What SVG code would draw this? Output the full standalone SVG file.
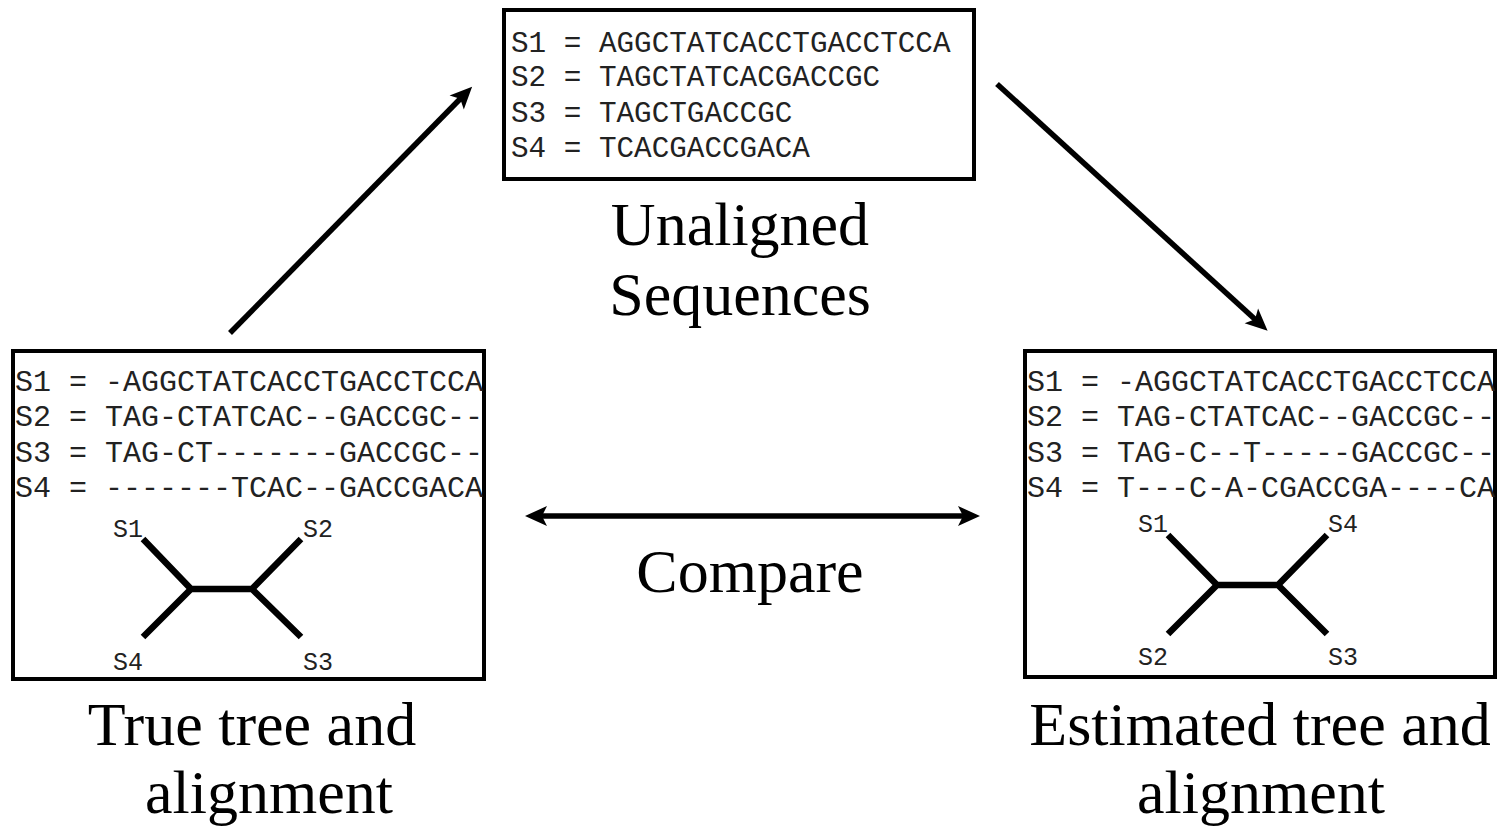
<svg xmlns="http://www.w3.org/2000/svg" width="1503" height="834" viewBox="0 0 1503 834">
<style>
.box{fill:#fff;stroke:#000;stroke-width:4}
.seq{font-family:"Liberation Mono","Courier New",monospace;font-size:30px;fill:#222;white-space:pre}
.seqt{font-family:"Liberation Mono","Courier New",monospace;font-size:29.3px;fill:#222;white-space:pre}
.leaf{font-family:"Liberation Mono","Courier New",monospace;font-size:25px;fill:#222}
.tree{stroke:#000;stroke-width:6.5;fill:none;stroke-linecap:butt;stroke-linejoin:miter}
.cap{font-family:"Liberation Serif","Times New Roman",serif;font-size:62px;fill:#000;text-anchor:middle}
.conn{stroke:#000;stroke-width:5.5;fill:none}
</style>
<defs>
<marker id="ah" markerUnits="userSpaceOnUse" markerWidth="40" markerHeight="40" refX="0" refY="0" orient="auto-start-reverse" overflow="visible" viewBox="-20 -20 40 40">
<path d="M13,0 L-9,-10 L-4,0 L-9,10 Z" fill="#000"/>
</marker>
</defs>

<g id="unaligned">
<rect class="box" x="504" y="10" width="470" height="169"/>
<text class="seqt" x="511" y="52">S1 = AGGCTATCACCTGACCTCCA</text>
<text class="seqt" x="511" y="86">S2 = TAGCTATCACGACCGC</text>
<text class="seqt" x="511" y="122">S3 = TAGCTGACCGC</text>
<text class="seqt" x="511" y="157">S4 = TCACGACCGACA</text>
<text class="cap" x="740" y="245">Unaligned</text>
<text class="cap" x="740" y="315">Sequences</text>
</g>

<g id="true">
<rect class="box" x="13" y="351" width="471" height="328"/>
<text class="seq" x="15" y="391">S1 = -AGGCTATCACCTGACCTCCA</text>
<text class="seq" x="15" y="426">S2 = TAG-CTATCAC--GACCGC--</text>
<text class="seq" x="15" y="462">S3 = TAG-CT-------GACCGC--</text>
<text class="seq" x="15" y="497">S4 = -------TCAC--GACCGACA</text>
<path class="tree" d="M143,539 L191,589 L143,637 M191,589 L252,589 M301,539 L252,589 L301,637"/>
<text class="leaf" x="113" y="537">S1</text>
<text class="leaf" x="303" y="537">S2</text>
<text class="leaf" x="113" y="670">S4</text>
<text class="leaf" x="303" y="670">S3</text>
<text class="cap" x="252" y="745">True tree and</text>
<text class="cap" x="269" y="813">alignment</text>
</g>

<g id="estimated">
<rect class="box" x="1025" y="351" width="470" height="326"/>
<text class="seq" x="1027" y="391">S1 = -AGGCTATCACCTGACCTCCA</text>
<text class="seq" x="1027" y="426">S2 = TAG-CTATCAC--GACCGC--</text>
<text class="seq" x="1027" y="462">S3 = TAG-C--T-----GACCGC--</text>
<text class="seq" x="1027" y="497">S4 = T---C-A-CGACCGA----CA</text>
<path class="tree" d="M1168,535 L1217,585 L1168,634 M1217,585 L1278,585 M1327,535 L1278,585 L1327,634"/>
<text class="leaf" x="1138" y="532">S1</text>
<text class="leaf" x="1328" y="532">S4</text>
<text class="leaf" x="1138" y="665">S2</text>
<text class="leaf" x="1328" y="665">S3</text>
<text class="cap" x="1260" y="745">Estimated tree and</text>
<text class="cap" x="1261" y="813">alignment</text>
</g>

<g id="compare-label">
<text class="cap" x="750" y="592">Compare</text>
</g>

<g id="connectors">
<line class="conn" x1="230" y1="333" x2="463" y2="96" marker-end="url(#ah)"/>
<line class="conn" x1="997" y1="84" x2="1258" y2="322" marker-end="url(#ah)"/>
<line class="conn" x1="538" y1="516" x2="967" y2="516" marker-start="url(#ah)" marker-end="url(#ah)"/>
</g>
</svg>
